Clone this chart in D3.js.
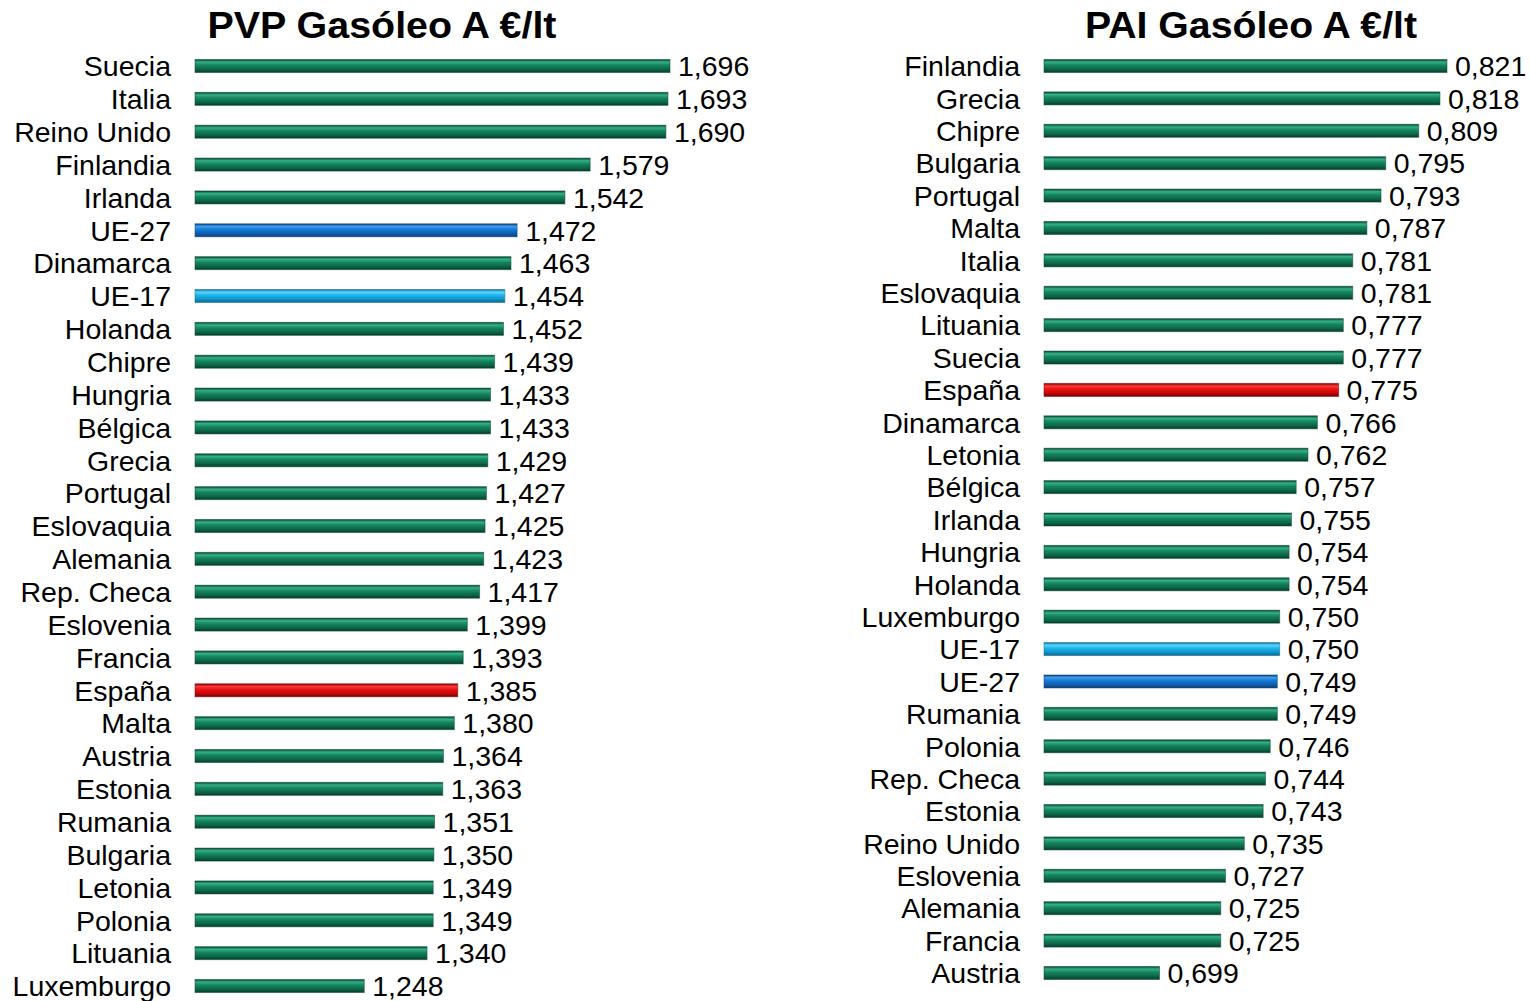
<!DOCTYPE HTML>
<html>
  <head>
    <meta charset="utf-8">
    <style>
     * { margin:0;padding:0 }
     body, html {
        height: 100%;
        overflow:hidden;
        background-color: #fff;
     }
     text { font-family: "Liberation Sans", Arial, sans-serif; fill: #000; }
     .titulo { font-weight: bold; font-size: 36px; }
     .pais { font-size: 28.5px; }
     .valor { font-size: 28.5px; }
    </style>
    <script src="https://cdn.jsdelivr.net/npm/d3@7"></script>
  </head>
  <body>
    <script>
      var width = 1530, height = 1001;

      // PVP (precio de venta al publico)
      var paisesPVP = ["Suecia","Italia","Reino Unido","Finlandia","Irlanda","UE-27","Dinamarca","UE-17",
        "Holanda","Chipre","Hungria","Bélgica","Grecia","Portugal","Eslovaquia","Alemania","Rep. Checa",
        "Eslovenia","Francia","España","Malta","Austria","Estonia","Rumania","Bulgaria","Letonia",
        "Polonia","Lituania","Luxemburgo"];
      var valoresPVP = [1.696,1.693,1.690,1.579,1.542,1.472,1.463,1.454,1.452,1.439,1.433,1.433,1.429,
        1.427,1.425,1.423,1.417,1.399,1.393,1.385,1.380,1.364,1.363,1.351,1.350,1.349,1.349,1.340,1.248];

      // PAI (precio antes de impuestos)
      var paisesPAI = ["Finlandia","Grecia","Chipre","Bulgaria","Portugal","Malta","Italia","Eslovaquia",
        "Lituania","Suecia","España","Dinamarca","Letonia","Bélgica","Irlanda","Hungria","Holanda",
        "Luxemburgo","UE-17","UE-27","Rumania","Polonia","Rep. Checa","Estonia","Reino Unido",
        "Eslovenia","Alemania","Francia","Austria"];
      var valoresPAI = [0.821,0.818,0.809,0.795,0.793,0.787,0.781,0.781,0.777,0.777,0.775,0.766,0.762,
        0.757,0.755,0.754,0.754,0.750,0.750,0.749,0.749,0.746,0.744,0.743,0.735,0.727,0.725,0.725,0.699];

      var locale = d3.formatLocale({decimal: ",", thousands: ".", grouping: [3], currency: ["€", ""]});
      var fmt = locale.format(".3f");

      var svg = d3.select("body").append("svg")
          .attr("width", width)
          .attr("height", height);

      // gradients for the bevelled bars
      var colores = {
        verde:  ["#06432f", "#34b083", "#15845e", "#0c6647", "#063d2b"],
        azul:   ["#0a3f7a", "#3f9cf0", "#1577d4", "#0f5fae", "#0a3d75"],
        celeste:["#0a6c96", "#5fd6ff", "#18b4ec", "#1192c6", "#0a6890"],
        rojo:   ["#7a0000", "#ff3a3a", "#e81010", "#c00808", "#7a0000"]
      };
      var defs = svg.append("defs");
      Object.keys(colores).forEach(function(k) {
        var g = defs.append("linearGradient").attr("id", "g-" + k)
            .attr("x1", 0).attr("y1", 0).attr("x2", 0).attr("y2", 1);
        var stops = [0, 0.2, 0.45, 0.75, 1];
        colores[k].forEach(function(c, i) {
          g.append("stop").attr("offset", stops[i]).attr("stop-color", c);
        });
      });

      function colorDe(p) {
        if (p == "España") return "rojo";
        if (p == "UE-27") return "azul";
        if (p == "UE-17") return "celeste";
        return "verde";
      }

      function panel(paises, valores, opts) {
        var x = d3.scaleLinear().domain(opts.dominio).range(opts.rangoX);
        var y = d3.scalePoint().domain(paises).range(opts.rangoY);
        var g = svg.append("g");
        var datos = paises.map(function(p, i) { return {pais: p, valor: valores[i]}; });

        g.append("text").attr("class", "titulo")
          .attr("x", opts.tituloX).attr("y", 38)
          .attr("text-anchor", "middle")
          .attr("textLength", opts.tituloAncho)
          .attr("lengthAdjust", "spacingAndGlyphs")
          .text(opts.titulo);

        var filas = g.selectAll("g.fila").data(datos).enter().append("g").attr("class", "fila");

        filas.append("text").attr("class", "pais")
          .attr("x", opts.rangoX[0] - 24)
          .attr("y", function(d) { return y(d.pais); })
          .attr("dy", "0.36em")
          .attr("text-anchor", "end")
          .text(function(d) { return d.pais; });

        filas.append("rect")
          .attr("x", x(opts.dominio[0]))
          .attr("y", function(d) { return y(d.pais) - 6.5; })
          .attr("width", function(d) { return x(d.valor) - x(opts.dominio[0]); })
          .attr("height", 13)
          .attr("fill", function(d) { return "url(#g-" + colorDe(d.pais) + ")"; })
          .attr("stroke", function(d) { return colores[colorDe(d.pais)][0]; })
          .attr("stroke-opacity", 0.5)
          .attr("stroke-width", 1);

        filas.append("text").attr("class", "valor")
          .attr("x", function(d) { return x(d.valor) + 8; })
          .attr("y", function(d) { return y(d.pais); })
          .attr("dy", "0.36em")
          .text(function(d) { return fmt(d.valor); });
      }

      panel(paisesPVP, valoresPVP, {
        titulo: "PVP Gasóleo A €/lt", tituloX: 382, tituloAncho: 349,
        dominio: [1.0, 1.696], rangoX: [195, 670], rangoY: [66, 986]
      });
      panel(paisesPAI, valoresPAI, {
        titulo: "PAI Gasóleo A €/lt", tituloX: 1251, tituloAncho: 332,
        dominio: [0.65, 0.821], rangoX: [1044, 1447], rangoY: [66, 973]
      });
    </script>
  </body>
</html>
